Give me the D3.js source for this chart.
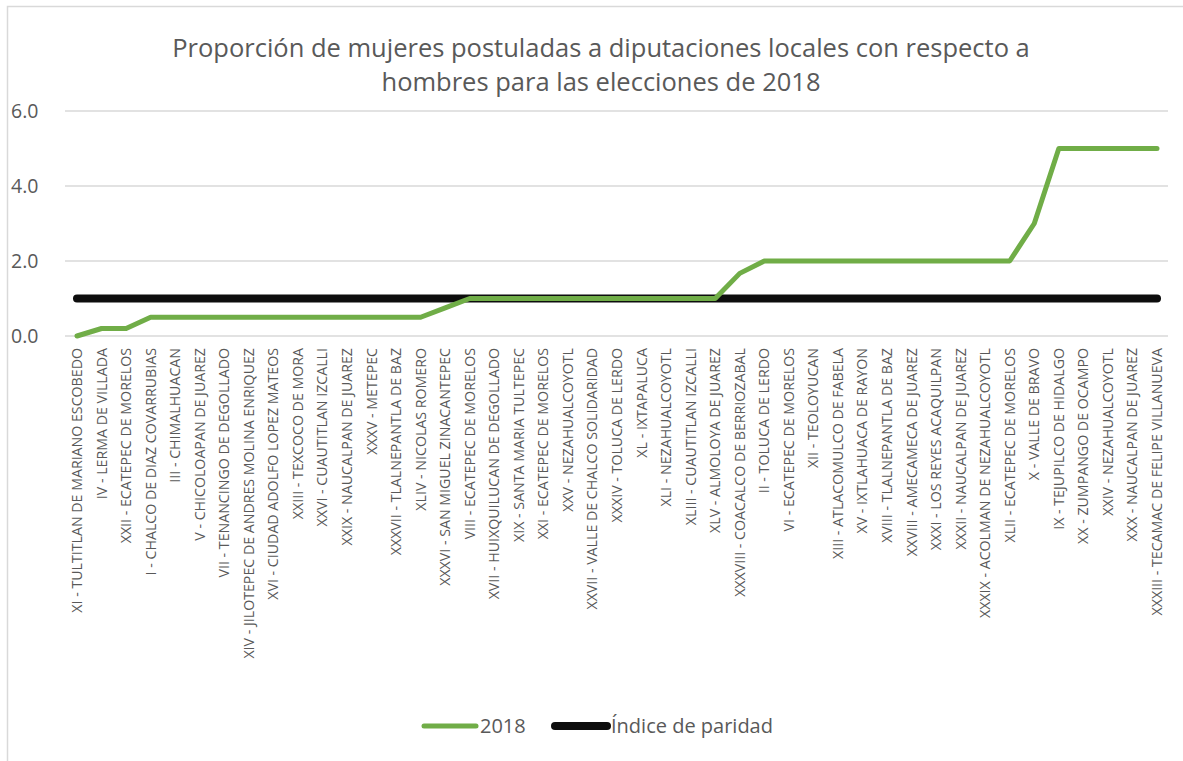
<!DOCTYPE html>
<html>
<head>
<meta charset="utf-8">
<script src="https://cdn.jsdelivr.net/npm/d3@7"></script>
<style>
  body { margin: 0; background: #fff; }
  text { font-family: "Open Sans", sans-serif; fill: #595959; }
</style>
</head>
<body>
<div id="chart"></div>
<script>
const distritos = [
  "XI - TULTITLAN DE MARIANO ESCOBEDO", "IV - LERMA DE VILLADA", "XXII - ECATEPEC DE MORELOS",
  "I - CHALCO DE DIAZ COVARRUBIAS", "III - CHIMALHUACAN", "V - CHICOLOAPAN DE JUAREZ",
  "VII - TENANCINGO DE DEGOLLADO", "XIV - JILOTEPEC DE ANDRES MOLINA ENRIQUEZ",
  "XVI - CIUDAD ADOLFO LOPEZ MATEOS", "XXIII - TEXCOCO DE MORA", "XXVI - CUAUTITLAN IZCALLI",
  "XXIX - NAUCALPAN DE JUAREZ", "XXXV - METEPEC", "XXXVII - TLALNEPANTLA DE BAZ",
  "XLIV - NICOLAS ROMERO", "XXXVI - SAN MIGUEL ZINACANTEPEC", "VIII - ECATEPEC DE MORELOS",
  "XVII - HUIXQUILUCAN DE DEGOLLADO", "XIX - SANTA MARIA TULTEPEC", "XXI - ECATEPEC DE MORELOS",
  "XXV - NEZAHUALCOYOTL", "XXVII - VALLE DE CHALCO SOLIDARIDAD", "XXXIV - TOLUCA DE LERDO",
  "XL - IXTAPALUCA", "XLI - NEZAHUALCOYOTL", "XLIII - CUAUTITLAN IZCALLI",
  "XLV - ALMOLOYA DE JUAREZ", "XXXVIII - COACALCO DE BERRIOZABAL", "II - TOLUCA DE LERDO",
  "VI - ECATEPEC DE MORELOS", "XII - TEOLOYUCAN", "XIII - ATLACOMULCO DE FABELA",
  "XV - IXTLAHUACA DE RAYON", "XVIII - TLALNEPANTLA DE BAZ", "XXVIII - AMECAMECA DE JUAREZ",
  "XXXI - LOS REYES ACAQUILPAN", "XXXII - NAUCALPAN DE JUAREZ", "XXXIX - ACOLMAN DE NEZAHUALCOYOTL",
  "XLII - ECATEPEC DE MORELOS", "X - VALLE DE BRAVO", "IX - TEJUPILCO DE HIDALGO",
  "XX - ZUMPANGO DE OCAMPO", "XXIV - NEZAHUALCOYOTL", "XXX - NAUCALPAN DE JUAREZ",
  "XXXIII - TECAMAC DE FELIPE VILLANUEVA"
];

const valores2018 = [
  0, 0.2, 0.2, 0.5, 0.5, 0.5, 0.5, 0.5, 0.5, 0.5, 0.5, 0.5, 0.5, 0.5, 0.5,
  0.75, 1, 1, 1, 1, 1, 1, 1, 1, 1, 1, 1,
  1.67, 2, 2, 2, 2, 2, 2, 2, 2, 2, 2, 2,
  3, 5, 5, 5, 5, 5
];

const indiceParidad = distritos.map(() => 1);

const yTicks = [0, 2, 4, 6];
const titleLines = [
  "Proporción de mujeres postuladas a diputaciones locales con respecto a",
  "hombres para las elecciones de 2018"
];
const legendItems = [
  { label: "2018", color: "#70ad47", width: 5 },
  { label: "Índice de paridad", color: "#0d0d0d", width: 8 }
];

const width = 1183, height = 761;

const svg = d3.select("#chart").append("svg")
  .attr("width", width)
  .attr("height", height);

// chart frame
svg.append("rect")
  .attr("x", 7.5).attr("y", 6.5)
  .attr("width", 1190).attr("height", 800)
  .attr("fill", "none")
  .attr("stroke", "#d9d9d9")
  .attr("stroke-width", 1.5);

const x = d3.scalePoint()
  .domain(distritos)
  .range([77, 1157]);

const y = d3.scaleLinear()
  .domain([0, 6])
  .range([336, 111]);

// gridlines
svg.append("g")
  .selectAll("line")
  .data(yTicks)
  .join("line")
  .attr("x1", 65).attr("x2", 1168)
  .attr("y1", d => y(d)).attr("y2", d => y(d))
  .attr("stroke", "#d9d9d9")
  .attr("stroke-width", 1.3);

// y labels
svg.append("g")
  .selectAll("text")
  .data(yTicks)
  .join("text")
  .attr("x", 11)
  .attr("y", d => y(d))
  .attr("dy", "0.35em")
  .style("font-size", "19.5px")
  .text(d => d.toFixed(1));

// x labels
svg.append("g")
  .selectAll("text")
  .data(distritos)
  .join("text")
  .attr("transform", d => `translate(${x(d) + 5},348) rotate(-90)`)
  .attr("text-anchor", "end")
  .style("font-size", "14.2px")
  .text(d => d);

const line = d3.line()
  .x((d, i) => x(distritos[i]))
  .y(d => y(d));

svg.append("path")
  .datum(indiceParidad)
  .attr("d", line)
  .attr("fill", "none")
  .attr("stroke", "#0d0d0d")
  .attr("stroke-width", 8)
  .attr("stroke-linecap", "round");

svg.append("path")
  .datum(valores2018)
  .attr("d", line)
  .attr("fill", "none")
  .attr("stroke", "#70ad47")
  .attr("stroke-width", 5)
  .attr("stroke-linecap", "round")
  .attr("stroke-linejoin", "round");

// title
svg.append("g")
  .selectAll("text")
  .data(titleLines)
  .join("text")
  .attr("x", 601)
  .attr("y", (d, i) => 57 + i * 34)
  .attr("text-anchor", "middle")
  .style("font-size", "25.5px")
  .text(d => d);

// legend
const legend = svg.append("g")
  .selectAll("g")
  .data(legendItems)
  .join("g")
  .attr("transform", (d, i) => `translate(${i === 0 ? 424 : 555},726)`);

legend.append("line")
  .attr("x1", 0).attr("x2", 52)
  .attr("stroke", d => d.color)
  .attr("stroke-width", d => d.width)
  .attr("stroke-linecap", "round");

legend.append("text")
  .attr("x", 56)
  .attr("dy", "0.35em")
  .style("font-size", "20px")
  .text(d => d.label);
</script>
</body>
</html>
